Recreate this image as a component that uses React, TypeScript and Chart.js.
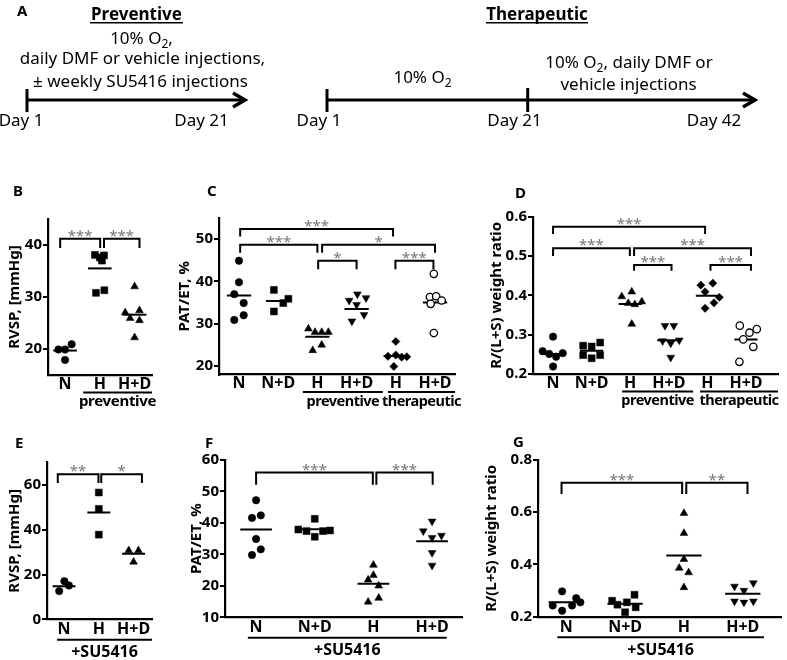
import React, { useEffect, useRef } from 'react';
import { Chart, registerables } from 'chart.js';

Chart.register(...registerables);

const FONT = '"Noto Sans", "Open Sans", "DejaVu Sans", sans-serif';
Chart.defaults.font.family = FONT;

// ---------------- Panel B : RVSP (preventive) ----------------
const B_categories = ['N', 'H', 'H+D'];
const B_values = [
  [19.9, 19.9, 20.9, 17.9],
  [38.1, 37.6, 38.0, 37.0, 30.8, 31.3],
  [32.0, 27.0, 27.4, 25.9, 25.5, 22.2],
];
const B_jitter = [
  [-0.19, 0, 0.19, 0],
  [-0.14, 0.0, 0.12, 0.06, -0.11, 0.13],
  [0, -0.27, 0.14, -0.13, 0.14, 0],
];
const B_means = [19.7, 35.5, 26.6];
const B_yTicks = [20, 30, 40];
const B_markers = ['circle', 'square', 'triangle'];
const B_brackets = [
  { from: -0.14, to: 1.01, y: 41.2, leg: 39.4, label: '***' },
  { from: 1.12, to: 2.14, y: 41.2, leg: 39.4, label: '***' },
];
const B_groups = [{ from: 0.52, to: 2.5, label: 'preventive' }];

// ---------------- Panel C : PAT/ET (preventive / therapeutic) ----------------
const C_categories = ['N', 'N+D', 'H', 'H+D', 'H', 'H+D'];
const C_values = [
  [44.9, 39.8, 37.0, 34.9, 32.0, 30.9],
  [38.0, 32.9, 34.9, 35.9],
  [28.8, 28.0, 28.0, 28.0, 23.7, 25.0],
  [37.0, 36.1, 35.5, 34.5, 32.1, 30.6],
  [25.8, 22.3, 22.6, 22.1, 22.2, 19.9],
  [41.8, 36.3, 36.5, 35.5, 34.7, 27.8],
];
const C_jitter = [
  [0, 0, -0.12, 0.12, 0.12, -0.12],
  [-0.11, -0.11, 0.13, 0.26],
  [-0.23, -0.06, 0.11, 0.28, -0.12, 0.11],
  [0.02, 0.24, -0.19, 0, 0.19, -0.12],
  [0, -0.2, 0, 0.15, 0.28, -0.05],
  [-0.03, -0.13, 0.03, 0.17, -0.11, -0.03],
];
const C_means = [36.7, 35.4, 26.9, 33.5, 22.4, 35.0];
const C_yTicks = [20, 30, 40, 50];
const C_markers = ['circle', 'square', 'triangle', 'triangleDown', 'diamond', 'openCircle'];
const C_brackets = [
  { from: 0.03, to: 3.93, y: 52.4, leg: 50.6, label: '***' },
  { from: 0.03, to: 2.0, y: 48.7, leg: 46.8, label: '***' },
  { from: 2.12, to: 5.0, y: 48.7, leg: 46.8, label: '*' },
  { from: 2.02, to: 3.0, y: 44.9, leg: 42.9, label: '*' },
  { from: 3.99, to: 4.96, y: 44.9, leg: 42.9, label: '***' },
];
const C_groups = [
  { from: 1.63, to: 3.67, label: 'preventive' },
  { from: 3.8, to: 5.51, label: 'therapeutic' },
];

// ---------------- Panel D : R/(L+S) (preventive / therapeutic) ----------------
const D_categories = ['N', 'N+D', 'H', 'H+D', 'H', 'H+D'];
const D_values = [
  [0.295, 0.258, 0.251, 0.244, 0.253, 0.219],
  [0.272, 0.270, 0.280, 0.248, 0.240, 0.248],
  [0.397, 0.409, 0.380, 0.377, 0.384, 0.327],
  [0.323, 0.323, 0.284, 0.278, 0.286, 0.242],
  [0.426, 0.431, 0.409, 0.395, 0.381, 0.367],
  [0.323, 0.314, 0.305, 0.288, 0.269, 0.231],
];
const D_jitter = [
  [0, -0.27, -0.1, 0.08, 0.25, 0],
  [-0.22, 0, 0.22, -0.22, 0, 0.22],
  [-0.22, 0.04, -0.05, 0.12, 0.3, 0.04],
  [-0.1, 0.13, -0.16, 0.05, 0.27, 0.05],
  [-0.17, 0.14, -0.06, 0.31, 0.17, -0.06],
  [-0.16, 0.28, 0.09, -0.07, 0.19, -0.17],
];
const D_means = [0.251, 0.259, 0.378, 0.286, 0.399, 0.288];
const D_yTicks = [0.2, 0.3, 0.4, 0.5, 0.6];
const D_markers = ['circle', 'square', 'triangle', 'triangleDown', 'diamond', 'openCircle'];
const D_brackets = [
  { from: 0, to: 3.94, y: 0.5746, leg: 0.556, label: '***' },
  { from: 0, to: 1.99, y: 0.5196, leg: 0.5, label: '***' },
  { from: 2.1, to: 5.13, y: 0.5196, leg: 0.5, label: '***' },
  { from: 2.1, to: 3.07, y: 0.477, leg: 0.4626, label: '***' },
  { from: 4.08, to: 5.13, y: 0.477, leg: 0.4626, label: '***' },
];
const D_groups = [
  { from: 1.79, to: 3.63, label: 'preventive' },
  { from: 3.81, to: 5.83, label: 'therapeutic' },
];

// ---------------- Panel E : RVSP (+SU5416) ----------------
const E_categories = ['N', 'H', 'H+D'];
const E_values = [
  [12.6, 17.0, 15.1],
  [56.6, 49.3, 37.8],
  [30.7, 30.7, 25.6],
];
const E_jitter = [
  [-0.14, 0.01, 0.14],
  [0, 0, 0],
  [-0.14, 0.14, 0],
];
const E_means = [14.8, 47.7, 29.3];
const E_yTicks = [0, 20, 40, 60];
const E_markers = ['circle', 'square', 'triangle'];
const E_brackets = [
  { from: -0.18, to: 0.99, y: 64.8, leg: 60.8, label: '**' },
  { from: 1.07, to: 2.24, y: 64.8, leg: 60.8, label: '*' },
];
const E_groups = [{ from: -0.2, to: 2.53, label: '+SU5416' }];

// ---------------- Panel F : PAT/ET (+SU5416) ----------------
const F_categories = ['N', 'N+D', 'H', 'H+D'];
const F_values = [
  [47.2, 41.6, 42.4, 34.9, 31.6, 29.8],
  [41.3, 37.9, 37.4, 37.4, 37.6, 35.6],
  [26.6, 23.4, 21.9, 20.0, 16.1, 14.9],
  [40.5, 37.4, 35.3, 36.0, 30.5, 26.5],
];
const F_jitter = [
  [0, -0.07, 0.08, 0, 0.08, -0.07],
  [0, -0.28, -0.14, 0.14, 0.26, 0],
  [0, 0, -0.09, 0.09, 0.09, -0.09],
  [0, -0.15, 0, 0.16, 0, 0],
];
const F_means = [37.9, 38.0, 20.7, 34.2];
const F_yTicks = [10, 20, 30, 40, 50, 60];
const F_markers = ['circle', 'square', 'triangle', 'triangleDown'];
const F_brackets = [
  { from: 0, to: 1.99, y: 56, leg: 52.1, label: '***' },
  { from: 2.05, to: 3.01, y: 56, leg: 52.1, label: '***' },
];
const F_groups = [{ from: -0.14, to: 3.25, label: '+SU5416' }];

// ---------------- Panel G : R/(L+S) (+SU5416) ----------------
const G_categories = ['N', 'N+D', 'H', 'H+D'];
const G_values = [
  [0.297, 0.271, 0.243, 0.243, 0.255, 0.223],
  [0.261, 0.284, 0.246, 0.255, 0.236, 0.217],
  [0.596, 0.520, 0.420, 0.386, 0.369, 0.312],
  [0.316, 0.300, 0.329, 0.259, 0.255, 0.259],
];
const G_jitter = [
  [-0.07, 0.17, -0.23, 0.1, 0.24, -0.07],
  [-0.22, 0.16, -0.13, 0.03, 0.18, 0],
  [0, 0, 0, -0.08, 0.08, 0],
  [-0.14, 0.02, 0.18, -0.14, 0.02, 0.18],
];
const G_means = [0.255, 0.25, 0.434, 0.288];
const G_yTicks = [0.2, 0.4, 0.6, 0.8];
const G_markers = ['circle', 'square', 'triangle', 'triangleDown'];
const G_brackets = [
  { from: -0.08, to: 1.97, y: 0.713, leg: 0.67, label: '***' },
  { from: 2.04, to: 3.08, y: 0.713, leg: 0.67, label: '**' },
];
const G_groups = [{ from: -0.15, to: 3.36, label: '+SU5416' }];

// ---------------- marker styles ----------------
const MARKERS: Record<string, any> = {
  circle: { pointStyle: 'circle', rotation: 0, radius: 3.7, fill: '#000', border: 0.6 },
  square: { pointStyle: 'rect', rotation: 0, radius: 4.9, fill: '#000', border: 0.5 },
  triangle: { pointStyle: 'triangle', rotation: 0, radius: 4.5, fill: '#000', border: 0.5 },
  triangleDown: { pointStyle: 'triangle', rotation: 180, radius: 4.5, fill: '#000', border: 0.5 },
  diamond: { pointStyle: 'rectRot', rotation: 0, radius: 4.1, fill: '#000', border: 0.5 },
  openCircle: { pointStyle: 'circle', rotation: 0, radius: 3.7, fill: '#fff', border: 1.3 },
};

// ---------------- panel specs (data refs + layout) ----------------
const PANELS = [
  {
    key: 'B', categories: B_categories, values: B_values, jitter: B_jitter, means: B_means,
    markers: B_markers, yTicks: B_yTicks, brackets: B_brackets, groups: B_groups,
    title: 'RVSP, [mmHg]', decimals: 0,
    left: 0, top: 195, width: 165, height: 220, yW: 48, padTop: 24, padRight: 13, xH: 40,
    xMin: -0.49, xMax: 2.5, yMin: 15, yMax: 45, half: 0.34,
    labelPad: 1, underlineOff: 17.5, groupTextOff: 31, groupFont: 15, groupSpacing: -0.3,
  },
  {
    key: 'C', categories: C_categories, values: C_values, jitter: C_jitter, means: C_means,
    markers: C_markers, yTicks: C_yTicks, brackets: C_brackets, groups: C_groups,
    title: 'PAT/ET, %', decimals: 0,
    left: 170, top: 195, width: 295, height: 220, yW: 49, padTop: 23, padRight: 10, xH: 40.5,
    xMin: -0.51, xMax: 5.51, yMin: 18, yMax: 55, half: 0.31,
    labelPad: 1, underlineOff: 17.5, groupTextOff: 31, groupFont: 14.5, groupSpacing: -0.5,
  },
  {
    key: 'D', categories: D_categories, values: D_values, jitter: D_jitter, means: D_means,
    markers: D_markers, yTicks: D_yTicks, brackets: D_brackets, groups: D_groups,
    title: 'R/(L+S) weight ratio', decimals: 1,
    left: 482, top: 195, width: 305, height: 220, yW: 51, padTop: 21.7, padRight: 9, xH: 41,
    xMin: -0.52, xMax: 5.83, yMin: 0.2, yMax: 0.6, half: 0.3,
    labelPad: 1, underlineOff: 17.5, groupTextOff: 31, groupFont: 14.5, groupSpacing: -0.5,
  },
  {
    key: 'E', categories: E_categories, values: E_values, jitter: E_jitter, means: E_means,
    markers: E_markers, yTicks: E_yTicks, brackets: E_brackets, groups: E_groups,
    title: 'RVSP, [mmHg]', decimals: 0,
    left: 0, top: 440, width: 165, height: 220, yW: 47, padTop: 22.5, padRight: 13, xH: 40.7,
    xMin: -0.49, xMax: 2.53, yMin: 0, yMax: 70, half: 0.33,
    labelPad: 2.5, underlineOff: 20.5, groupTextOff: 38, groupFont: 16, groupSpacing: 0,
  },
  {
    key: 'F', categories: F_categories, values: F_values, jitter: F_jitter, means: F_means,
    markers: F_markers, yTicks: F_yTicks, brackets: F_brackets, groups: F_groups,
    title: 'PAT/ET, %', decimals: 0,
    left: 182, top: 440, width: 290, height: 220, yW: 43, padTop: 20, padRight: 10, xH: 42.7,
    xMin: -0.53, xMax: 3.51, yMin: 10, yMax: 60, half: 0.27,
    labelPad: 2.5, underlineOff: 20.5, groupTextOff: 38, groupFont: 16, groupSpacing: 0,
  },
  {
    key: 'G', categories: G_categories, values: G_values, jitter: G_jitter, means: G_means,
    markers: G_markers, yTicks: G_yTicks, brackets: G_brackets, groups: G_groups,
    title: 'R/(L+S) weight ratio', decimals: 1,
    left: 477, top: 440, width: 310, height: 220, yW: 61, padTop: 20, padRight: 5, xH: 43.3,
    xMin: -0.48, xMax: 3.66, yMin: 0.2, yMax: 0.8, half: 0.3,
    labelPad: 2.5, underlineOff: 20.5, groupTextOff: 38, groupFont: 16, groupSpacing: 0,
  },
];

function makeAnnotPlugin(s: any) {
  return {
    id: 'annot' + s.key,
    afterDraw(chart: any) {
      const { ctx, chartArea } = chart;
      const xs = chart.scales.x;
      const ys = chart.scales.y;
      ctx.save();
      ctx.strokeStyle = '#000';
      ctx.lineWidth = 2;
      ctx.lineJoin = 'miter';
      ctx.lineCap = 'butt';
      s.brackets.forEach((b: any) => {
        const x1 = xs.getPixelForValue(b.from);
        const x2 = xs.getPixelForValue(b.to);
        const yy = ys.getPixelForValue(b.y);
        const yl = ys.getPixelForValue(b.leg);
        ctx.beginPath();
        ctx.moveTo(x1, yl);
        ctx.lineTo(x1, yy);
        ctx.lineTo(x2, yy);
        ctx.lineTo(x2, yl);
        ctx.stroke();
        ctx.fillStyle = '#777';
        ctx.font = `15px ${FONT}`;
        ctx.textAlign = 'center';
        ctx.textBaseline = 'alphabetic';
        ctx.fillText(b.label, (x1 + x2) / 2, yy + 2);
      });
      s.groups.forEach((g: any) => {
        const x1 = xs.getPixelForValue(g.from);
        const x2 = xs.getPixelForValue(g.to);
        const ly = chartArea.bottom + s.underlineOff;
        ctx.beginPath();
        ctx.moveTo(x1, ly);
        ctx.lineTo(x2, ly);
        ctx.stroke();
        ctx.fillStyle = '#000';
        ctx.font = `bold ${s.groupFont}px ${FONT}`;
        (ctx as any).letterSpacing = `${s.groupSpacing}px`;
        ctx.textAlign = 'center';
        ctx.textBaseline = 'alphabetic';
        ctx.fillText(g.label, (x1 + x2) / 2, chartArea.bottom + s.groupTextOff);
        (ctx as any).letterSpacing = '0px';
      });
      ctx.restore();
    },
  };
}

function buildConfig(s: any): any {
  const datasets: any[] = [];
  s.values.forEach((vals: number[], gi: number) => {
    const m = MARKERS[s.markers[gi]];
    datasets.push({
      data: vals.map((v, i) => ({ x: gi + s.jitter[gi][i], y: v })),
      pointStyle: m.pointStyle,
      pointRotation: m.rotation,
      pointRadius: m.radius,
      backgroundColor: m.fill,
      borderColor: '#000',
      borderWidth: m.border,
      showLine: false,
      clip: false,
    });
  });
  s.means.forEach((mv: number, gi: number) => {
    datasets.push({
      data: [
        { x: gi - s.half, y: mv },
        { x: gi + s.half, y: mv },
      ],
      showLine: true,
      borderColor: '#000',
      borderWidth: 2,
      pointRadius: 0,
      fill: false,
    });
  });
  return {
    type: 'scatter',
    data: { datasets },
    plugins: [makeAnnotPlugin(s)],
    options: {
      responsive: false,
      animation: false,
      events: [],
      layout: { padding: { top: s.padTop, right: s.padRight, bottom: 0, left: 0 } },
      plugins: { legend: { display: false }, tooltip: { enabled: false } },
      scales: {
        x: {
          type: 'linear',
          min: s.xMin,
          max: s.xMax,
          afterBuildTicks: (ax: any) => {
            ax.ticks = s.categories.map((_: string, i: number) => ({ value: i }));
          },
          afterFit: (ax: any) => {
            ax.height = s.xH;
          },
          ticks: {
            callback: (v: any) => s.categories[Math.round(Number(v))] ?? '',
            color: '#000',
            font: { family: FONT, size: 16, weight: 'bold', lineHeight: 1 },
            padding: s.labelPad,
            maxRotation: 0,
            autoSkip: false,
          },
          grid: { display: false, drawTicks: false },
          border: { display: true, color: '#000', width: 2.2 },
        },
        y: {
          type: 'linear',
          min: s.yMin,
          max: s.yMax,
          afterBuildTicks: (ax: any) => {
            ax.ticks = s.yTicks.map((v: number) => ({ value: v }));
          },
          afterFit: (ax: any) => {
            ax.width = s.yW;
          },
          ticks: {
            callback: (v: any) => (s.decimals ? Number(v).toFixed(s.decimals) : String(v)),
            color: '#000',
            font: { family: FONT, size: 15, weight: 'bold' },
            padding: 1,
          },
          grid: {
            display: true,
            drawOnChartArea: false,
            drawTicks: true,
            tickLength: 5,
            color: '#000',
            lineWidth: 2,
          },
          border: { display: true, color: '#000', width: 2.2 },
          title: {
            display: true,
            text: s.title,
            color: '#000',
            font: { family: FONT, size: 15, weight: 'bold', lineHeight: 1.2 },
            padding: { top: 6, bottom: 0 },
          },
        },
      },
    },
  };
}

function Panel({ spec }: { spec: any }) {
  const ref = useRef<HTMLCanvasElement>(null);
  useEffect(() => {
    if (!ref.current) return;
    const chart = new Chart(ref.current, buildConfig(spec));
    return () => chart.destroy();
  }, [spec]);
  return (
    <canvas
      ref={ref}
      width={spec.width}
      height={spec.height}
      style={{
        position: 'absolute',
        left: spec.left,
        top: spec.top,
        width: spec.width,
        height: spec.height,
      }}
    />
  );
}

function Overlay() {
  const txt = { fontFamily: FONT, fill: '#000' } as any;
  return (
    <svg
      width={787}
      height={660}
      style={{ position: 'absolute', left: 0, top: 0, pointerEvents: 'none' }}
    >
      {/* Panel letters */}
      <text {...txt} x={17} y={15.7} fontSize={15} fontWeight="bold">A</text>
      <text {...txt} x={13} y={195.7} fontSize={15} fontWeight="bold">B</text>
      <text {...txt} x={207} y={195.7} fontSize={15} fontWeight="bold">C</text>
      <text {...txt} x={515} y={198} fontSize={15} fontWeight="bold">D</text>
      <text {...txt} x={15} y={447.5} fontSize={15} fontWeight="bold">E</text>
      <text {...txt} x={205} y={447.5} fontSize={15} fontWeight="bold">F</text>
      <text {...txt} x={513} y={447} fontSize={15} fontWeight="bold">G</text>

      {/* Preventive schematic */}
      <text {...txt} x={136.5} y={19.5} fontSize={17} fontWeight="bold" textAnchor="middle">Preventive</text>
      <line x1={90} y1={22.7} x2={183} y2={22.7} stroke="#000" strokeWidth={1.5} />
      <text {...txt} x={141.5} y={44} fontSize={17} textAnchor="middle">
        10% O<tspan fontSize={12} dy={4}>2</tspan><tspan dy={-4}>,</tspan>
      </text>
      <text {...txt} x={142.5} y={64} fontSize={17} textAnchor="middle">daily DMF or vehicle injections,</text>
      <text {...txt} x={140.5} y={87} fontSize={17} textAnchor="middle">± weekly SU5416 injections</text>
      <line x1={27} y1={100} x2={243} y2={100} stroke="#000" strokeWidth={3} />
      <line x1={27} y1={89} x2={27} y2={112} stroke="#000" strokeWidth={3} />
      <polyline points="233,93 245,100 233,107" fill="none" stroke="#000" strokeWidth={3.5} />
      <text {...txt} x={21} y={126} fontSize={17} textAnchor="middle">Day 1</text>
      <text {...txt} x={201.5} y={126} fontSize={17} textAnchor="middle">Day 21</text>

      {/* Therapeutic schematic */}
      <text {...txt} x={537} y={19.5} fontSize={17} fontWeight="bold" textAnchor="middle">Therapeutic</text>
      <line x1={486} y1={22.7} x2={588} y2={22.7} stroke="#000" strokeWidth={1.5} />
      <text {...txt} x={422.5} y={83} fontSize={17} textAnchor="middle">
        10% O<tspan fontSize={12} dy={4}>2</tspan>
      </text>
      <text {...txt} x={629} y={68} fontSize={17} textAnchor="middle">
        10% O<tspan fontSize={12} dy={4}>2</tspan><tspan dy={-4}>, daily DMF or</tspan>
      </text>
      <text {...txt} x={628.5} y={90} fontSize={17} textAnchor="middle">vehicle injections</text>
      <line x1={327} y1={100} x2={753} y2={100} stroke="#000" strokeWidth={3} />
      <line x1={327} y1={89} x2={327} y2={112} stroke="#000" strokeWidth={3} />
      <line x1={527.7} y1={88} x2={527.7} y2={112} stroke="#000" strokeWidth={3} />
      <polyline points="743,93 755,100 743,107" fill="none" stroke="#000" strokeWidth={3.5} />
      <text {...txt} x={319} y={126} fontSize={17} textAnchor="middle">Day 1</text>
      <text {...txt} x={514.5} y={126} fontSize={17} textAnchor="middle">Day 21</text>
      <text {...txt} x={714} y={126} fontSize={17} textAnchor="middle">Day 42</text>
    </svg>
  );
}

export default function App() {
  return (
    <div
      style={{
        position: 'absolute',
        left: 0,
        top: 0,
        width: 787,
        height: 660,
        background: '#fff',
        overflow: 'hidden',
      }}
    >
      {PANELS.map((p) => (
        <Panel key={p.key} spec={p} />
      ))}
      <Overlay />
    </div>
  );
}
